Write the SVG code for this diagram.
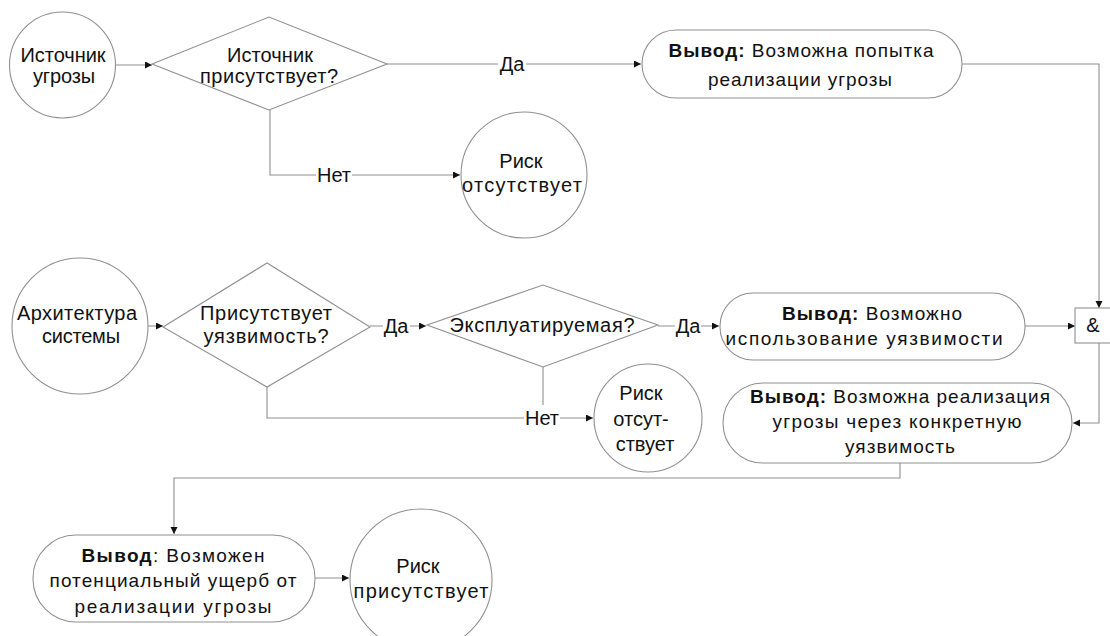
<svg xmlns="http://www.w3.org/2000/svg" width="1110" height="636" viewBox="0 0 1110 636">
<defs>
<marker id="arr" markerWidth="8" markerHeight="8" refX="7" refY="3.5" orient="auto" markerUnits="userSpaceOnUse">
<path d="M0,0 L7,3.5 L0,7 Z" fill="#111"/>
</marker>
<style>
.shape{fill:#fff;stroke:#909090;stroke-width:1.1}
.edge{fill:none;stroke:#909090;stroke-width:1.1}
.t{font-family:"Liberation Sans",Arial,sans-serif;font-size:20px;fill:#111;text-anchor:middle}
.b{font-size:19px}
.bold{font-weight:bold}
.lblbg{fill:#fff}
</style>
</defs>
<rect width="1110" height="636" fill="#fff"/>

<g id="connectors">
<line class="edge" x1="115" y1="65" x2="152" y2="65" marker-end="url(#arr)"/>
<line class="edge" x1="387" y1="64" x2="641" y2="64" marker-end="url(#arr)"/>
<polyline class="edge" points="270,110 270,175 460,175" marker-end="url(#arr)"/>
<polyline class="edge" points="962,64 1099,64 1099,308" marker-end="url(#arr)"/>
<line class="edge" x1="148" y1="326" x2="163" y2="326" marker-end="url(#arr)"/>
<line class="edge" x1="370" y1="326" x2="426" y2="326" marker-end="url(#arr)"/>
<line class="edge" x1="658" y1="326" x2="719" y2="326" marker-end="url(#arr)"/>
<polyline class="edge" points="267,387 267,418 593,418" marker-end="url(#arr)"/>
<line class="edge" x1="543" y1="367" x2="543" y2="418"/>
<line class="edge" x1="1025" y1="326" x2="1075" y2="326" marker-end="url(#arr)"/>
<polyline class="edge" points="1099,343 1099,423 1073,423" marker-end="url(#arr)"/>
<polyline class="edge" points="900,463 900,478 174,478 174,534" marker-end="url(#arr)"/>
<line class="edge" x1="315" y1="578" x2="349" y2="578" marker-end="url(#arr)"/>
<rect class="lblbg" x="498" y="54" width="28" height="20"/>
<text class="t" x="512" y="71">Да</text>
<rect class="lblbg" x="316" y="165" width="36" height="20"/>
<text class="t" x="334" y="182">Нет</text>
<rect class="lblbg" x="383" y="316" width="27" height="20"/>
<text class="t" x="396" y="333">Да</text>
<rect class="lblbg" x="675" y="316" width="26" height="20"/>
<text class="t" x="688" y="333">Да</text>
<rect class="lblbg" x="524" y="405" width="36" height="22"/>
<text class="t" x="542" y="425">Нет</text>
</g>

<g id="n_source">
<circle class="shape" cx="62.5" cy="65" r="53"/>
<text class="t" x="63" y="62" textLength="85">Источник</text>
<text class="t" x="64" y="83" textLength="62">угрозы</text>
</g>

<g id="n_dec1">
<polygon class="shape" points="152,64 269,17 387,64 269,110"/>
<text class="t" x="270" y="62" textLength="86">Источник</text>
<text class="t" x="269" y="83" textLength="138">присутствует?</text>
</g>

<g id="n_out1">
<rect class="shape" x="642" y="30" width="320" height="68" rx="34"/>
<text class="t b" x="801" y="57" textLength="265"><tspan class="bold">Вывод:</tspan> Возможна попытка</text>
<text class="t b" x="800" y="86" textLength="184">реализации угрозы</text>
</g>

<g id="n_norisk1">
<circle class="shape" cx="524" cy="175" r="63"/>
<text class="t" x="521" y="168">Риск</text>
<text class="t" x="522" y="192" textLength="120">отсутствует</text>
</g>

<g id="n_arch">
<circle class="shape" cx="80" cy="326" r="68"/>
<text class="t" x="77" y="320" textLength="120">Архитектура</text>
<text class="t" x="81" y="343" textLength="78">системы</text>
</g>

<g id="n_dec2">
<polygon class="shape" points="163,327 267,263 370,327 267,387"/>
<text class="t" x="266" y="320" textLength="132">Присутствует</text>
<text class="t" x="266" y="343" textLength="125">уязвимость?</text>
</g>

<g id="n_dec3">
<polygon class="shape" points="427,325 543,285 658,325 543,367"/>
<text class="t" x="542" y="332" textLength="185">Эксплуатируемая?</text>
</g>

<g id="n_out2">
<rect class="shape" x="720" y="293" width="305" height="67" rx="33"/>
<text class="t b" x="872" y="320" textLength="180"><tspan class="bold">Вывод:</tspan> Возможно</text>
<text class="t b" x="864" y="345" textLength="277">использование уязвимости</text>
</g>

<g id="n_norisk2">
<circle class="shape" cx="648" cy="418" r="54"/>
<text class="t" x="641" y="400">Риск</text>
<text class="t" x="641" y="426">отсут-</text>
<text class="t" x="645" y="451">ствует</text>
</g>

<g id="n_and">
<rect class="shape" x="1075" y="308" width="48" height="35"/>
<text class="t" x="1093" y="332">&amp;</text>
</g>

<g id="n_out3">
<rect class="shape" x="723" y="383" width="349" height="80" rx="40"/>
<text class="t b" x="900" y="403" textLength="300"><tspan class="bold">Вывод:</tspan> Возможна реализация</text>
<text class="t b" x="897" y="428" textLength="249">угрозы через конкретную</text>
<text class="t b" x="900" y="453" textLength="110">уязвимость</text>
</g>

<g id="n_out4">
<rect class="shape" x="33" y="535" width="282" height="87" rx="43"/>
<text class="t b" x="173" y="562" textLength="183"><tspan class="bold">Вывод</tspan>: Возможен</text>
<text class="t b" x="173" y="587" textLength="247">потенциальный ущерб от</text>
<text class="t b" x="173" y="613" textLength="197">реализации угрозы</text>
</g>

<g id="n_risk">
<circle class="shape" cx="421" cy="580" r="71"/>
<text class="t" x="418" y="573">Риск</text>
<text class="t" x="421" y="598" textLength="135">присутствует</text>
</g>
</svg>
